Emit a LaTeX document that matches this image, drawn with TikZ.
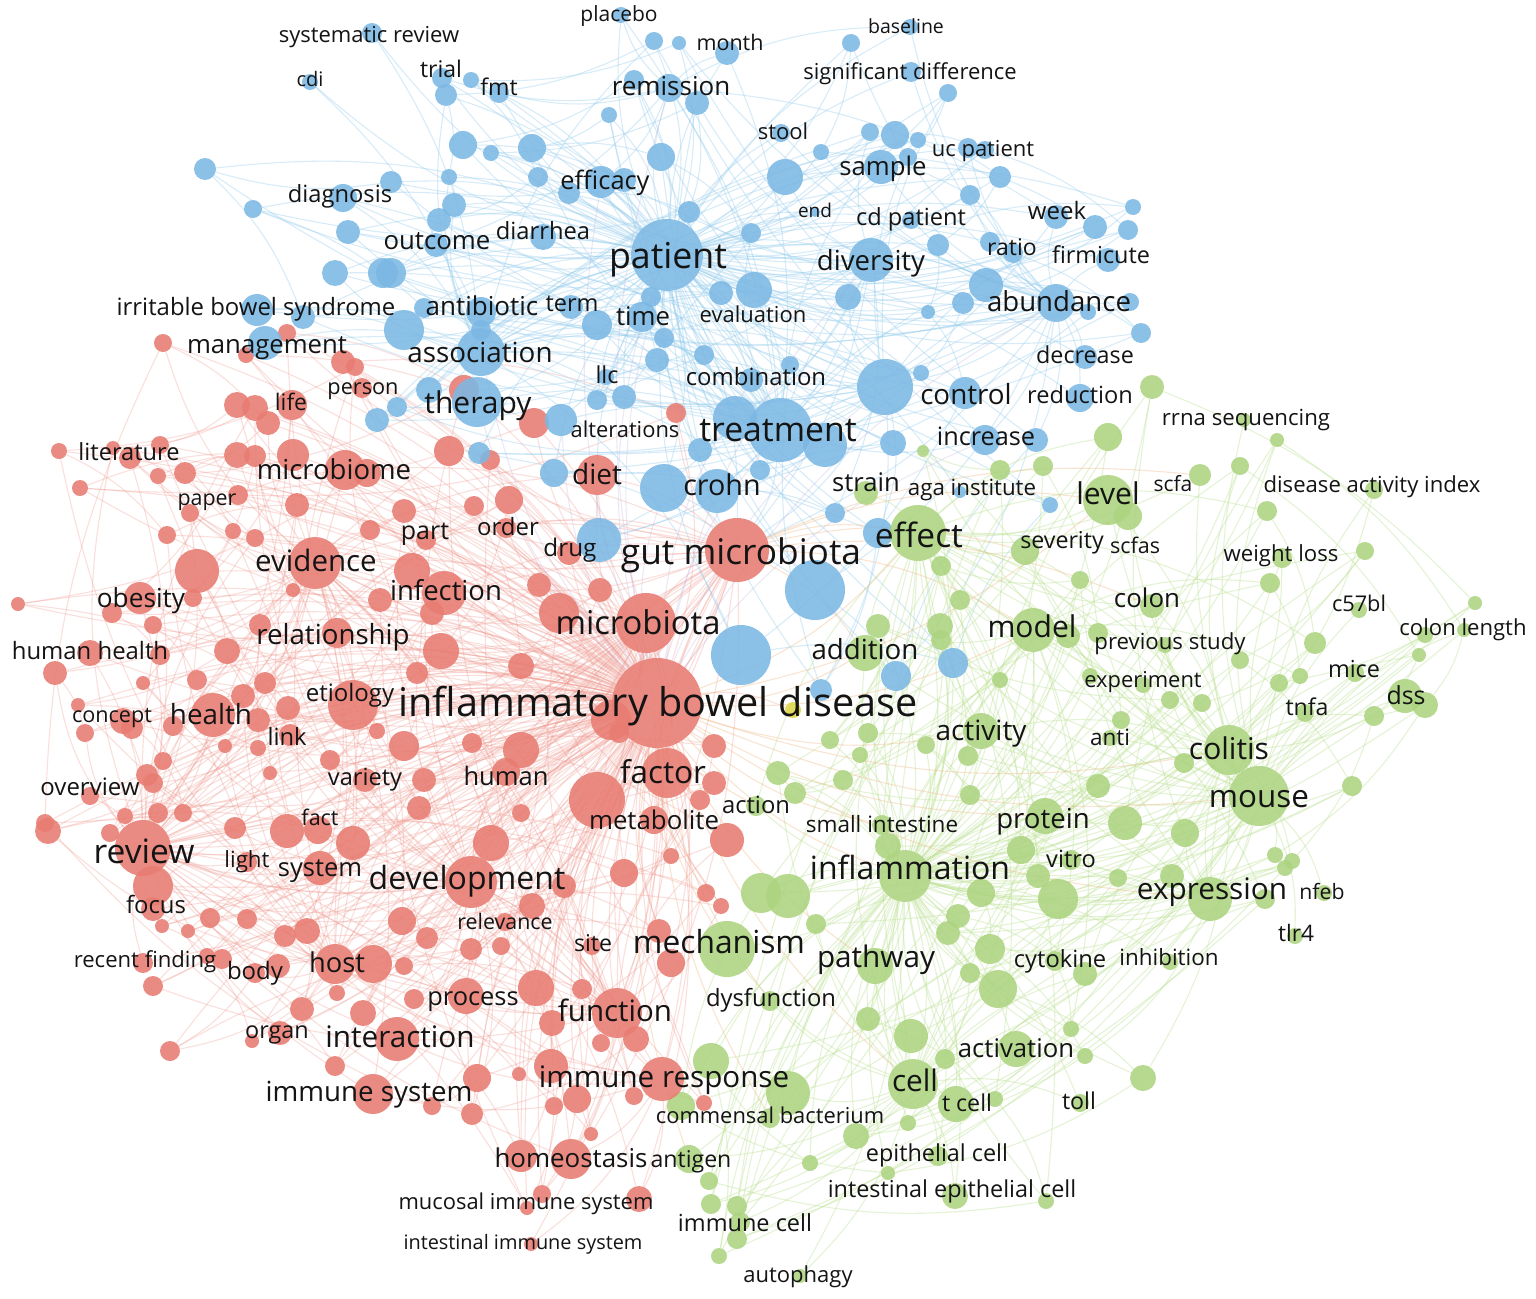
\documentclass[tikz,border=0pt]{standalone}
\usepackage{fontspec}
\setmainfont{Open Sans}
\pgfdeclarelayer{bg}
\pgfdeclarelayer{edges}
\pgfdeclarelayer{labels}
\pgfsetlayers{bg,edges,main,labels}
\definecolor{redc}{RGB}{232,124,114}
\definecolor{bluec}{RGB}{124,184,228}
\definecolor{greenc}{RGB}{172,212,128}
\definecolor{yelc}{RGB}{222,214,70}
\definecolor{rede}{RGB}{240,150,140}
\definecolor{bluee}{RGB}{150,206,238}
\definecolor{greene}{RGB}{190,226,150}
\definecolor{orae}{RGB}{240,180,125}
\definecolor{pure}{RGB}{195,180,222}
\definecolor{labc}{RGB}{20,20,20}
\tikzset{
 dot/.style={circle,inner sep=0pt,draw=none,fill opacity=0.88},
 rc/.style={dot,fill=redc},
 bc/.style={dot,fill=bluec},
 gc/.style={dot,fill=greenc},
 yc/.style={dot,fill=yelc},
 lab/.style={inner sep=0pt,anchor=base,text=labc},
 redge/.style={draw=rede,line width=1.1pt,draw opacity=0.3},
 bedge/.style={draw=bluee,line width=1.1pt,draw opacity=0.38},
 gedge/.style={draw=greene,line width=1.1pt,draw opacity=0.4},
 oedge/.style={draw=orae,line width=1.1pt,draw opacity=0.35},
 pedge/.style={draw=pure,line width=1.1pt,draw opacity=0.3}
}
\newcommand\kw[9]{%
 \node[#2,minimum size=2*#5] (#1) at (#3,#4) {};
 \begin{pgfonlayer}{labels}\node[lab] (#1-t) at (#6,{#7+0.33*#8}) {\fontsize{#8}{#8}\selectfont #9};\end{pgfonlayer}}
\begin{document}
\begin{tikzpicture}[x=1pt,y=-1pt]
\begin{pgfonlayer}{bg}
\fill[white] (0,0) rectangle (1536,1298);
\end{pgfonlayer}
\useasboundingbox (0,0) rectangle (1536,1298);
% ---------------- unlabeled circles
\foreach \x/\y/\r [count=\i] in {163/343/9, 287/333/9, 246/355/8, 343/362/12, 355/367/9, 237/405/13, 255/408/13, 268/423/12, 464/390/15, 534/423/15, 676/413/10, 59/451/8, 160/445/9, 113/448/7, 185/473/11, 158/476/8, 80/488/8, 238/495/10, 167/535/9, 233/531/8, 255/538/9, 237/455/13, 255/456/11, 293/455/16, 367/473/14, 297/505/12, 197/571/22, 293/590/7, 112/613/10, 193/598/9, 153/625/9, 18/604/7, 260/625/11, 227/651/13, 55/673/12, 160/655/10, 143/683/7, 197/680/10, 265/683/11, 243/696/12, 78/705/7, 85/733/9, 132/728/11, 173/726/10, 258/720/12, 288/708/12, 225/746/7, 258/748/8, 377/731/8, 163/761/9, 147/775/11, 270/773/7, 125/816/8, 48/831/13, 153/783/10, 158/813/10, 183/813/9, 110/833/9, 287/831/17, 353/843/17, 235/828/11, 449/451/15, 509/500/14, 474/506/10, 404/511/12, 539/585/12, 412/571/18, 432/613/12, 559/613/20, 441/651/18, 521/666/13, 417/673/11, 611/720/20, 619/733/10, 404/746/15, 472/743/10, 714/746/12, 597/800/28, 714/783/12, 424/780/12, 419/808/12, 521/813/9, 727/840/17, 671/856/8, 491/843/18, 153/886/20, 162/926/7, 188/931/7, 210/918/10, 247/919/10, 285/936/11, 307/931/13, 373/964/19, 207/956/8, 222/959/10, 255/973/10, 153/986/10, 337/993/8, 302/1009/12, 363/1013/13, 252/1041/7, 335/1066/10, 170/1051/10, 564/886/12, 624/873/14, 402/921/14, 427/938/11, 532/906/13, 471/949/11, 501/946/9, 404/966/9, 706/893/9, 721/906/8, 659/931/12, 671/963/14, 414/999/10, 536/988/18, 582/989/10, 552/1023/13, 601/1043/9, 636/1039/13, 477/1078/14, 519/1074/7, 551/1066/17, 577/1099/14, 554/1106/9, 634/1096/9, 472/1114/11, 432/1106/9, 591/1134/7, 521/1156/16, 542/1194/9, 527/1208/7, 704/1103/8, 521/750/18, 45/823/9, 490/460/10, 600/590/12, 700/800/10, 380/600/12, 370/530/10, 330/760/10}
 {\node[rc,minimum size=2*\r] (r\i) at (\x,\y) {}; \xdef\nR{\i}}
\foreach \x/\y/\r [count=\i] in {654/41/9, 679/43/7, 634/80/10, 697/103/12, 609/115/8, 446/95/11, 471/80/8, 463/145/14, 491/153/8, 532/148/14, 449/177/8, 538/177/10, 624/180/12, 569/193/11, 661/157/14, 454/205/12, 439/220/12, 391/182/11, 689/212/11, 751/233/10, 721/293/12, 391/273/15, 205/169/11, 253/209/9, 348/232/12, 335/273/13, 383/273/15, 303/317/12, 424/308/10, 597/325/15, 664/338/10, 651/297/10, 404/330/20, 481/330/10, 657/360/12, 704/355/10, 597/400/10, 624/397/12, 429/390/13, 397/407/10, 377/420/12, 851/43/9, 948/93/9, 870/132/9, 895/135/14, 918/140/8, 821/152/8, 908/157/9, 785/177/18, 985/150/9, 1000/177/11, 970/195/10, 1095/227/12, 1133/207/8, 1128/230/10, 938/245/11, 1013/253/10, 848/297/13, 986/285/17, 963/303/11, 928/312/7, 1141/333/10, 1130/302/9, 1088/312/8, 921/373/8, 965/393/16, 479/453/11, 554/473/14, 717/491/22, 599/540/22, 741/655/30, 815/590/30, 878/533/15, 835/513/10, 893/443/13, 953/663/15, 896/676/15, 821/690/11, 735/418/22, 825/445/22, 1050/505/8, 1036/440/12, 790/365/9, 700/450/12, 760/470/10}
 {\node[bc,minimum size=2*\r] (b\i) at (\x,\y) {}; \xdef\nB{\i}}
\foreach \x/\y/\r [count=\i] in {923/451/6, 1043/466/10, 941/566/10, 878/626/12, 940/626/13, 941/640/10, 1068/636/12, 1098/633/10, 868/733/10, 860/755/8, 926/745/9, 968/756/10, 1090/676/8, 1121/720/9, 1098/786/12, 843/780/10, 970/795/10, 1125/823/17, 888/846/13, 1021/850/14, 778/773/12, 795/793/11, 1152/387/12, 1277/440/7, 1240/466/9, 1267/511/10, 1365/551/9, 1270/583/10, 1475/603/7, 1464/630/7, 1419/655/7, 1315/643/11, 1240/660/9, 1300/676/8, 1279/683/9, 1425/705/13, 1374/716/10, 1202/703/9, 1352/786/10, 1184/763/10, 1185/833/14, 1275/855/8, 1292/861/8, 788/896/22, 816/924/10, 958/916/12, 981/893/14, 948/933/12, 1058/899/20, 1038/876/12, 1118/878/9, 1055/961/10, 990/949/15, 970/973/10, 998/989/19, 868/1019/12, 911/1036/17, 1071/1029/8, 1085/1056/8, 945/1059/10, 1143/1078/13, 995/1099/8, 788/1093/22, 908/1123/8, 856/1136/13, 810/1163/8, 888/1173/7, 1046/1201/8, 1172/876/12, 1265/899/10, 1285/868/8, 711/1061/18, 681/1106/14, 709/1181/9, 711/1204/10, 737/1206/10, 737/1239/10, 719/1256/8, 761/893/20, 1108/437/14, 1000/470/10, 960/600/10, 1080/580/9, 1170/700/9, 1000/680/8, 830/740/9}
 {\node[gc,minimum size=2*\r] (g\i) at (\x,\y) {}; \xdef\nG{\i}}
\node[yc,minimum size=16] (yel) at (793,710) {};
% ---------------- labeled: blue
\kw{sysrev}{bc}{372}{33}{10}{369}{35}{22}{systematic review}
\kw{placebo}{bc}{621}{15}{8}{619}{15}{21}{placebo}
\kw{month}{bc}{727}{53}{12}{730}{43}{21.5}{month}
\kw{baseline}{bc}{910}{27}{8}{906}{27}{19.5}{baseline}
\kw{sigdiff}{bc}{911}{72}{10}{910}{72}{22}{significant difference}
\kw{cdi}{bc}{310}{82}{8}{310}{80}{20}{cdi}
\kw{trial}{bc}{442}{78}{10}{441}{70}{23}{trial}
\kw{fmt}{bc}{499}{93}{10}{499}{88}{23}{fmt}
\kw{remission}{bc}{669}{88}{14}{671}{87}{26}{remission}
\kw{stool}{bc}{781}{133}{9}{783}{132}{22}{stool}
\kw{sample}{bc}{881}{167}{17}{883}{167}{25.7}{sample}
\kw{ucpat}{bc}{968}{148}{10}{983}{149}{22}{uc patient}
\kw{diagnosis}{bc}{343}{198}{14}{340}{195}{23.7}{diagnosis}
\kw{efficacy}{bc}{601}{182}{16}{605}{181}{25.4}{efficacy}
\kw{endw}{bc}{815}{212}{5}{815}{211}{19}{end}
\kw{cdpat}{bc}{911}{220}{9}{911}{218}{23.6}{cd patient}
\kw{week}{bc}{1056}{217}{12}{1057}{212}{24}{week}
\kw{outcome}{bc}{436}{245}{12}{437}{241}{25.8}{outcome}
\kw{diarrhea}{bc}{543}{237}{13}{543}{232}{23.7}{diarrhea}
\kw{patient}{bc}{667}{255}{36}{668}{257}{35.7}{patient}
\kw{diversity}{bc,alias=bh4}{871}{260}{22}{871}{261}{27.6}{diversity}
\kw{ratio}{bc}{990}{242}{10}{1012}{248}{23}{ratio}
\kw{firmicute}{bc}{1108}{260}{12}{1101}{256}{23.4}{firmicute}
\kw{ibs}{bc}{257}{310}{16}{256}{308}{23.9}{irritable bowel syndrome}
\kw{antibiotic}{bc}{481}{312}{15}{482}{307}{26}{antibiotic}
\kw{term}{bc}{571}{307}{12}{572}{304}{23.5}{term}
\kw{time}{bc}{642}{317}{15}{643}{317}{25.7}{time}
\kw{evaluation}{bc}{754}{290}{18}{753}{315}{22}{evaluation}
\kw{abundance}{bc,alias=bh2}{1056}{303}{19}{1059}{302}{27.6}{abundance}
\kw{management}{bc}{265}{343}{17}{267}{345}{25.7}{management}
\kw{association}{bc,alias=bh1}{481}{352}{24}{480}{353}{27.8}{association}
\kw{decrease}{bc}{1085}{357}{12}{1085}{356}{23.3}{decrease}
\kw{llc}{bc}{606}{377}{8}{607}{376}{23.4}{llc}
\kw{combination}{bc}{751}{380}{12}{756}{378}{23.9}{combination}
\kw{control}{bc,alias=bh3}{885}{387}{28}{966}{395}{27.8}{control}
\kw{reduction}{bc}{1080}{398}{14}{1080}{396}{23.6}{reduction}
\kw{therapy}{bc}{477}{402}{25}{478}{404}{30}{therapy}
\kw{alterations}{bc}{561}{420}{16}{625}{430}{21.9}{alterations}
\kw{treatment}{bc,alias=bh0}{780}{430}{32}{778}{430}{33.7}{treatment}
\kw{increase}{bc}{985}{440}{15}{986}{437}{25.3}{increase}
\kw{crohn}{bc}{664}{488}{24}{722}{486}{28.7}{crohn}
\kw{aga}{bc}{960}{492}{6}{972}{488}{22.3}{aga institute}
% ---------------- labeled: red
\kw{person}{rc}{362}{388}{10}{363}{387}{21.7}{person}
\kw{life}{rc}{292}{405}{15}{291}{403}{22.8}{life}
\kw{literature}{rc}{130}{458}{11}{129}{453}{23.6}{literature}
\kw{microbiome}{rc}{345}{470}{20}{334}{470}{27.5}{microbiome}
\kw{diet}{rc}{597}{475}{20}{597}{475}{28}{diet}
\kw{paper}{rc}{190}{513}{9}{207}{498}{21.4}{paper}
\kw{part}{rc}{426}{540}{10}{425}{531}{25}{part}
\kw{order}{rc}{506}{528}{10}{508}{528}{23.9}{order}
\kw{drug}{rc}{569}{553}{12}{570}{548}{24.3}{drug}
\kw{gutmb}{rc,alias=rh4}{737}{550}{32}{741}{553}{35.3}{gut microbiota}
\kw{evidence}{rc,alias=rh1}{315}{563}{26}{316}{562}{29.5}{evidence}
\kw{infection}{rc}{444}{593}{22}{446}{591}{27.5}{infection}
\kw{obesity}{rc}{140}{598}{16}{141}{599}{26.2}{obesity}
\kw{microbiota}{rc,alias=rh3}{646}{623}{30}{638}{624}{32.8}{microbiota}
\kw{relationship}{rc}{337}{633}{15}{333}{635}{27.7}{relationship}
\kw{humanhealth}{rc}{90}{653}{13}{90}{652}{23.9}{human health}
\kw{etiology}{rc}{353}{705}{25}{350}{694}{24}{etiology}
\kw{concept}{rc}{123}{721}{13}{112}{715}{21.6}{concept}
\kw{health}{rc}{213}{715}{22}{211}{715}{27.8}{health}
\kw{link}{rc}{290}{735}{11}{287}{738}{23.7}{link}
\kw{variety}{rc}{365}{780}{12}{365}{778}{23.6}{variety}
\kw{human}{rc}{506}{772}{14}{506}{777}{25.5}{human}
\kw{ibd}{rc}{657}{703}{45}{658}{703}{39.6}{inflammatory bowel disease}
\kw{factor}{rc}{667}{773}{25}{663}{773}{31.4}{factor}
\kw{overview}{rc}{90}{796}{9}{90}{788}{24}{overview}
\kw{metabolite}{rc}{654}{820}{14}{654}{821}{25.8}{metabolite}
\kw{fact}{rc}{318}{830}{14}{320}{818}{21.5}{fact}
\kw{review}{rc,alias=rh0}{143}{848}{28}{144}{852}{33.6}{review}
\kw{light}{rc}{247}{862}{10}{247}{860}{22.3}{light}
\kw{system}{rc}{320}{868}{17}{320}{868}{25.5}{system}
\kw{development}{rc,alias=rh2}{471}{882}{26}{467}{879}{32}{development}
\kw{focus}{rc}{153}{909}{12}{156}{906}{23.9}{focus}
\kw{relevance}{rc}{505}{922}{9}{505}{922}{21.4}{relevance}
\kw{site}{rc}{592}{946}{9}{593}{944}{23.1}{site}
\kw{recentf}{rc}{143}{963}{10}{145}{960}{22.1}{recent finding}
\kw{body}{rc}{278}{966}{12}{255}{972}{24}{body}
\kw{host}{rc,alias=rh5}{335}{964}{20}{337}{963}{27.3}{host}
\kw{process}{rc}{466}{996}{18}{473}{997}{25.4}{process}
\kw{function}{rc,alias=rh6}{617}{1013}{25}{615}{1012}{29.5}{function}
\kw{organ}{rc}{280}{1033}{12}{277}{1031}{23.4}{organ}
\kw{interaction}{rc}{397}{1039}{22}{400}{1038}{29.7}{interaction}
\kw{immresp}{rc}{662}{1079}{22}{664}{1078}{29.6}{immune response}
\kw{immsys}{rc}{373}{1094}{20}{369}{1092}{27.7}{immune system}
\kw{homeostasis}{rc}{571}{1159}{20}{571}{1159}{25.9}{homeostasis}
\kw{mucosal}{rc}{639}{1199}{13}{526}{1202}{21.9}{mucosal immune system}
\kw{intimm}{rc}{531}{1244}{7}{523}{1243}{19.9}{intestinal immune system}
% ---------------- labeled: green
\kw{rrna}{gc}{1244}{420}{7}{1246}{418}{22.2}{rrna sequencing}
\kw{level}{gc}{1108}{500}{25}{1108}{495}{30}{level}
\kw{scfa}{gc}{1200}{475}{11}{1173}{485}{21}{scfa}
\kw{dai}{gc}{1374}{490}{9}{1372}{485}{22.1}{disease activity index}
\kw{strain}{gc}{866}{493}{12}{866}{483}{25.6}{strain}
\kw{effect}{gc,alias=gh2}{918}{533}{28}{919}{536}{33.5}{effect}
\kw{severity}{gc}{1025}{551}{14}{1062}{541}{23.2}{severity}
\kw{scfas}{gc}{1128}{516}{14}{1135}{546}{21.5}{scfas}
\kw{weightloss}{gc}{1282}{558}{10}{1281}{554}{22.2}{weight loss}
\kw{colon}{gc}{1152}{606}{12}{1147}{599}{25.9}{colon}
\kw{c57bl}{gc}{1359}{610}{8}{1359}{604}{21.7}{c57bl}
\kw{model}{gc,alias=gh4}{1033}{630}{22}{1032}{628}{30}{model}
\kw{colonlen}{gc}{1425}{635}{8}{1463}{628}{22.1}{colon length}
\kw{prevstudy}{gc}{1165}{645}{8}{1170}{642}{22.2}{previous study}
\kw{addition}{gc}{865}{653}{18}{865}{650}{27.7}{addition}
\kw{mice}{gc}{1355}{673}{9}{1354}{670}{23.4}{mice}
\kw{experiment}{gc}{1143}{685}{8}{1143}{680}{21.9}{experiment}
\kw{dss}{gc}{1405}{696}{17}{1406}{696}{24.9}{dss}
\kw{tnfa}{gc}{1305}{713}{9}{1307}{708}{23.1}{tnfa}
\kw{activity}{gc}{981}{731}{18}{981}{731}{28}{activity}
\kw{anti}{gc}{1110}{738}{8}{1110}{738}{22.5}{anti}
\kw{colitis}{gc,alias=gh1}{1229}{750}{25}{1229}{750}{30}{colitis}
\kw{mouse}{gc,alias=gh0}{1259}{796}{30}{1259}{797}{31.4}{mouse}
\kw{action}{gc}{756}{806}{10}{756}{806}{23.8}{action}
\kw{smallint}{gc}{882}{825}{10}{882}{825}{22.5}{small intestine}
\kw{protein}{gc}{1045}{816}{18}{1043}{819}{27.6}{protein}
\kw{vitro}{gc}{1071}{860}{10}{1071}{860}{23.6}{vitro}
\kw{inflammation}{gc}{905}{876}{26}{910}{869}{32}{inflammation}
\kw{expression}{gc,alias=gh5}{1210}{899}{22}{1212}{890}{29.7}{expression}
\kw{nfeb}{gc}{1324}{893}{8}{1322}{892}{21.2}{nfeb}
\kw{tlr4}{gc}{1295}{936}{8}{1296}{934}{22.7}{tlr4}
\kw{mechanism}{gc}{727}{949}{28}{719}{943}{31.8}{mechanism}
\kw{pathway}{gc}{875}{966}{18}{876}{958}{29.7}{pathway}
\kw{cytokine}{gc}{1085}{974}{12}{1060}{960}{23.7}{cytokine}
\kw{inhibition}{gc}{1170}{962}{8}{1169}{958}{22.4}{inhibition}
\kw{dysfunction}{gc}{770}{1001}{10}{771}{999}{23.8}{dysfunction}
\kw{activation}{gc}{1016}{1049}{18}{1016}{1049}{25.7}{activation}
\kw{cell}{gc,alias=gh3}{913}{1084}{25}{915}{1082}{29.8}{cell}
\kw{tcell}{gc}{956}{1104}{18}{967}{1104}{23.2}{t cell}
\kw{toll}{gc}{1080}{1103}{9}{1079}{1102}{23.2}{toll}
\kw{commensal}{gc}{770}{1118}{10}{770}{1116}{21.9}{commensal bacterium}
\kw{antigen}{gc}{689}{1159}{14}{691}{1160}{23.1}{antigen}
\kw{epithelial}{gc}{938}{1156}{10}{937}{1154}{23.4}{epithelial cell}
\kw{intepi}{gc}{955}{1196}{13}{952}{1190}{23.4}{intestinal epithelial cell}
\kw{immcell}{gc}{740}{1222}{10}{745}{1224}{23.5}{immune cell}
\kw{autophagy}{gc}{800}{1276}{7}{798}{1275}{22}{autophagy}
% ---------------- edges
\begin{pgfonlayer}{edges}
\foreach \i in {1,...,\nR} {
  \pgfmathtruncatemacro\k{mod(\i,7)}
  \pgfmathtruncatemacro\j{mod(\i+6,\nR)+1}
  \draw[redge] (r\i) to[bend left=16] (ibd);
  \draw[redge] (r\i) to[bend right=16] (rh\k);
  \draw[redge] (r\i) to[bend left=12] (r\j);
}
\foreach \i in {1,...,\nB} {
  \pgfmathtruncatemacro\k{mod(\i,5)}
  \pgfmathtruncatemacro\j{mod(\i+4,\nB)+1}
  \draw[bedge] (b\i) to[bend left=16] (patient);
  \draw[bedge] (b\i) to[bend right=16] (bh\k);
  \draw[bedge] (b\i) to[bend left=12] (b\j);
}
\foreach \i in {1,...,\nG} {
  \pgfmathtruncatemacro\k{mod(\i,6)}
  \pgfmathtruncatemacro\j{mod(\i+5,\nG)+1}
  \draw[gedge] (g\i) to[bend left=16] (inflammation);
  \draw[gedge] (g\i) to[bend right=16] (gh\k);
  \draw[gedge] (g\i) to[bend left=12] (g\j);
}
\foreach \b in {life,literature,microbiome,diet,paper,part,order,drug,gutmb,evidence,infection,obesity,microbiota,relationship,humanhealth,etiology,concept,health,link,variety,human,factor,overview,metabolite,fact,review,light,system,development,focus,relevance,site,recentf,body,host,process,function,organ,interaction,immresp,immsys,homeostasis,mucosal,intimm,person,yel}
  \draw[redge] (ibd) to[bend left=15] (\b);
\foreach \b in {evidence,health,development,host,interaction,immsys,microbiome,relationship,function,immresp,microbiota,gutmb,factor,system,fact,light,focus,recentf,body,organ,overview,concept,obesity,humanhealth,process,etiology,variety,link,homeostasis,infection,literature,paper,life}
  \draw[redge] (review) to[bend right=14] (\b);
\foreach \b in {health,obesity,microbiome,relationship,development,function,microbiota,gutmb,immsys,host,infection,factor,life,literature,paper,humanhealth,diet,etiology}
  \draw[redge] (evidence) to[bend left=14] (\b);
\foreach \b in {host,interaction,immsys,function,immresp,homeostasis,process,relevance,site,system,body,organ,microbiota,gutmb,factor,metabolite,human,variety,mucosal}
  \draw[redge] (development) to[bend left=14] (\b);
\foreach \b in {microbiota,microbiome,diet,drug,factor,metabolite,host,function,health,human,infection,part,order}
  \draw[redge] (gutmb) to[bend right=14] (\b);
\foreach \b in {host,function,immresp,homeostasis,interaction,health,obesity,factor,metabolite,diet,infection,relationship}
  \draw[redge] (microbiota) to[bend left=14] (\b);
\foreach \b in {homeostasis,mucosal,intimm,function,interaction,immsys,host,process,site}
  \draw[redge] (immresp) to[bend left=14] (\b);
\foreach \b in {sysrev,placebo,month,baseline,sigdiff,cdi,trial,fmt,remission,stool,sample,ucpat,diagnosis,efficacy,endw,cdpat,week,outcome,diarrhea,diversity,ratio,firmicute,ibs,antibiotic,term,time,evaluation,abundance,management,association,decrease,llc,combination,control,reduction,therapy,alterations,treatment,increase,crohn,aga}
  \draw[bedge] (patient) to[bend left=14] (\b);
\foreach \b in {remission,efficacy,therapy,crohn,control,time,evaluation,combination,outcome,diarrhea,antibiotic,term,association,alterations,llc,increase,week,month,placebo,trial,fmt,diagnosis,ibs,management}
  \draw[bedge] (treatment) to[bend right=14] (\b);
\foreach \b in {diversity,ratio,firmicute,decrease,reduction,control,sample,week,increase,stool,cdpat,ucpat,sigdiff,baseline}
  \draw[bedge] (abundance) to[bend left=14] (\b);
\foreach \b in {efficacy,month,placebo,trial,fmt,week,baseline,outcome}
  \draw[bedge] (remission) to[bend left=14] (\b);
\foreach \b in {ibs,management,diagnosis,outcome,therapy,antibiotic,cdi,sysrev}
  \draw[bedge] (association) to[bend right=14] (\b);
\foreach \b in {colitis,dss,mice,tnfa,colonlen,c57bl,weightloss,dai,model,expression,protein,inflammation,activity,level,colon,prevstudy,experiment,anti,vitro,inhibition,cytokine,nfeb,tlr4,effect,severity,scfa,scfas,rrna,cell,addition}
  \draw[gedge] (mouse) to[bend left=14] (\b);
\foreach \b in {dss,mice,tnfa,dai,weightloss,colonlen,model,expression,inflammation,activity,level,colon,effect,severity,protein,cytokine}
  \draw[gedge] (colitis) to[bend right=14] (\b);
\foreach \b in {cell,pathway,mechanism,activation,cytokine,expression,protein,tcell,epithelial,intepi,immcell,autophagy,commensal,antigen,dysfunction,action,smallint,addition,activity,effect,model,toll,vitro,inhibition}
  \draw[gedge] (inflammation) to[bend left=14] (\b);
\foreach \b in {addition,activity,model,level,severity,strain,scfas,scfa,colon,protein,action,smallint,expression,experiment,prevstudy}
  \draw[gedge] (effect) to[bend right=14] (\b);
\foreach \b in {tcell,toll,epithelial,intepi,immcell,autophagy,activation,antigen,commensal,pathway,mechanism,cytokine,dysfunction}
  \draw[gedge] (cell) to[bend left=14] (\b);
\foreach \b in {effect,inflammation,mechanism,pathway,activity,addition,cell,colitis,mouse,model,expression,action,smallint,dysfunction,level,protein,commensal,antigen}
  \draw[oedge] (ibd) to[bend right=14] (\b);
\foreach \b in {patient,treatment,crohn,therapy,association,control,diversity,abundance,remission,efficacy,alterations,time,combination,increase}
  \draw[pedge] (ibd) to[bend left=14] (\b);
\foreach \b in {effect,level,model,colon,severity,scfa,addition}
  \draw[oedge] (gutmb) to[bend left=14] (\b);
\foreach \b in {treatment,crohn,abundance,diversity,control,patient}
  \draw[bedge] (gutmb) to[bend right=14] (\b);
\end{pgfonlayer}
\end{tikzpicture}
\end{document}
